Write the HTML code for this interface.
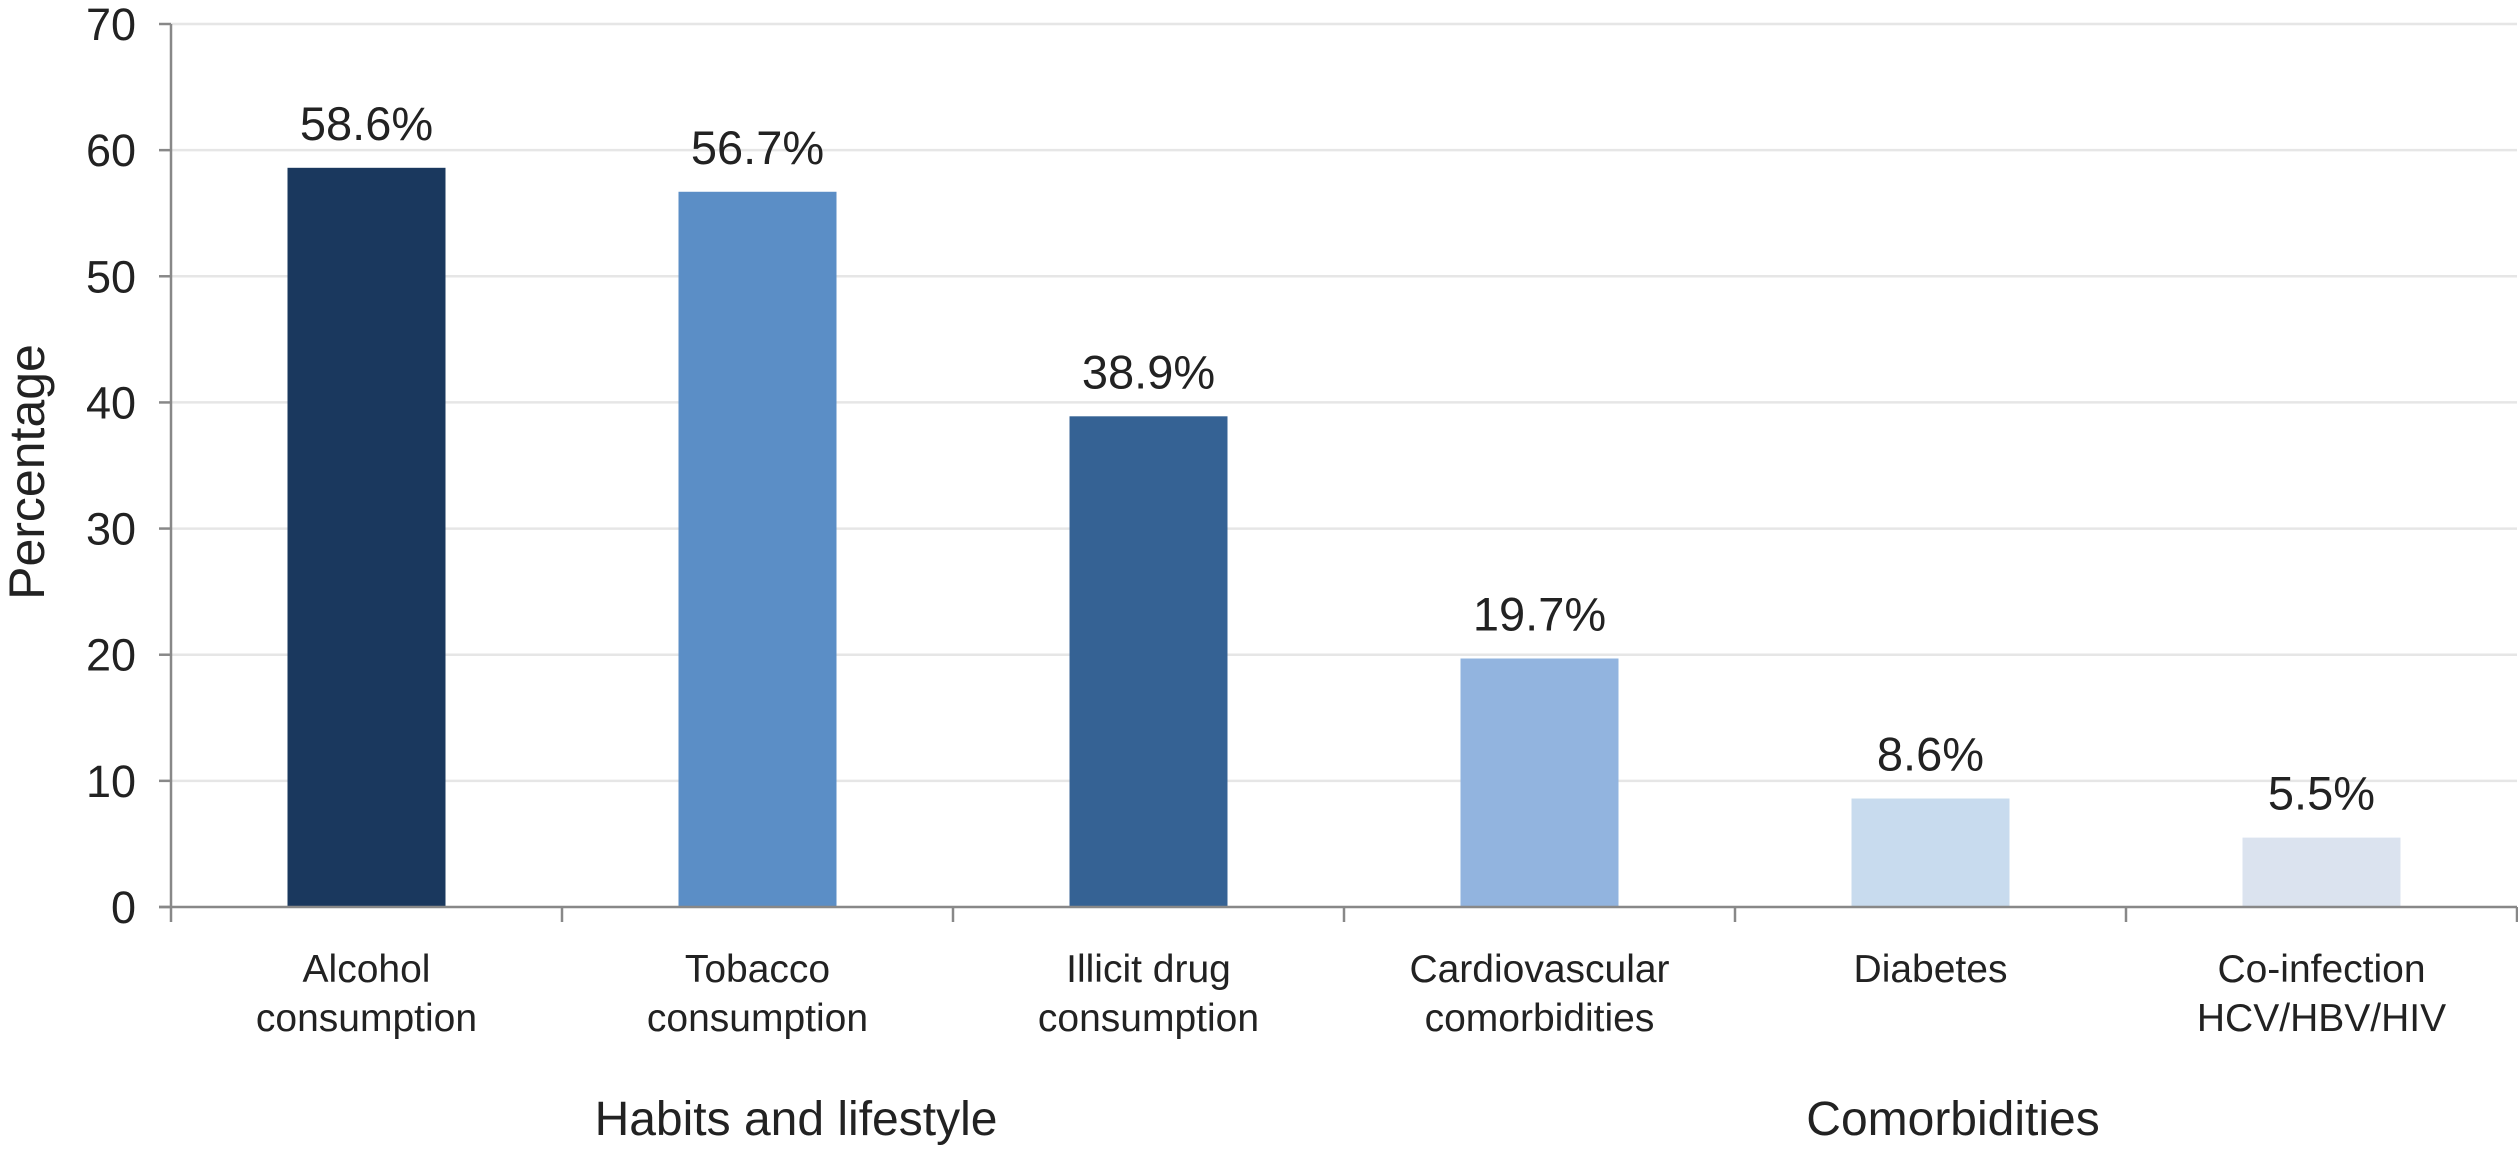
<!DOCTYPE html>
<html><head><meta charset="utf-8"><style>
html,body{margin:0;padding:0;background:#fff;}
svg{display:block;font-family:"Liberation Sans",Arial,sans-serif;}
</style></head><body>
<svg id="chart" width="2518" height="1149" viewBox="0 0 2518 1149" xmlns="http://www.w3.org/2000/svg">
<g id="grid"></g>
<g id="bars"></g>
<g id="axes"></g>
<text x="0" y="0" transform="translate(44,472) rotate(-90)" text-anchor="middle" font-size="50" fill="#222">Percentage</text>
<text x="796" y="1135" text-anchor="middle" font-size="48" fill="#222">Habits and lifestyle</text>
<text x="1953" y="1135" text-anchor="middle" font-size="48" fill="#222">Comorbidities</text>
</svg>
<script>
const categories = [["Alcohol","consumption"],["Tobacco","consumption"],["Illicit drug","consumption"],["Cardiovascular","comorbidities"],["Diabetes"],["Co-infection","HCV/HBV/HIV"]];
const values = [58.6, 56.7, 38.9, 19.7, 8.6, 5.5];
const valueLabels = ["58.6%","56.7%","38.9%","19.7%","8.6%","5.5%"];
const yTicks = [0,10,20,30,40,50,60,70];
const colors = ["#1a385e","#5b8ec6","#356294","#92b4df","#c8dbee","#dbe3ef"];

const NS="http://www.w3.org/2000/svg";
const X0=171, X1=2517, Y0=907, YMAX=70, YTOP=24;
const slot=(X1-X0)/categories.length, barW=158;
function y(v){return Y0-(v/YMAX)*(Y0-YTOP);}
function xc(i){return X0+slot*(i+0.5);}
function mk(tag,attrs,parent,txt){const e=document.createElementNS(NS,tag);for(const k in attrs)e.setAttribute(k,attrs[k]);if(txt!==undefined)e.textContent=txt;parent.appendChild(e);return e;}
const grid=document.getElementById('grid'),bars=document.getElementById('bars'),axes=document.getElementById('axes');
yTicks.forEach(t=>{
  if(t>0){const g=mk('line',{x1:X0,x2:X1,y1:y(t),y2:y(t),stroke:'#e6e6e6','stroke-width':2.5},grid);
  
  }
  const tk=mk('line',{x1:159,x2:X0,y1:y(t),y2:y(t),stroke:'#888','stroke-width':2.5},axes);
  
  
  const lb=mk('text',{x:136,y:y(t)+16,'text-anchor':'end','font-size':45,fill:'#222'},axes,String(t));
  
  
});
values.forEach((v,i)=>{
  const r=mk('rect',{x:xc(i)-barW/2,y:y(v),width:barW,height:Y0-y(v),fill:colors[i]},bars);
  
  
  const t=mk('text',{x:xc(i),y:y(v)-28,'text-anchor':'middle','font-size':47,fill:'#222'},bars,valueLabels[i]);
  
  
  categories[i].forEach((line,j)=>{
    const c=mk('text',{x:xc(i),y:982+j*49,'text-anchor':'middle','font-size':39,fill:'#222'},axes,line);
    
    
  });
});
const ya=mk('line',{x1:X0,x2:X0,y1:YTOP,y2:922,stroke:'#888','stroke-width':2.5},axes);


const xa=mk('line',{x1:159,x2:X1,y1:Y0,y2:Y0,stroke:'#888','stroke-width':2.5},axes);


for(let i=1;i<=categories.length;i++){
  const xt=X0+slot*i;
  const tk=mk('line',{x1:xt,x2:xt,y1:Y0,y2:922,stroke:'#888','stroke-width':2.5},axes);
  
  
}
</script>
</body></html>
